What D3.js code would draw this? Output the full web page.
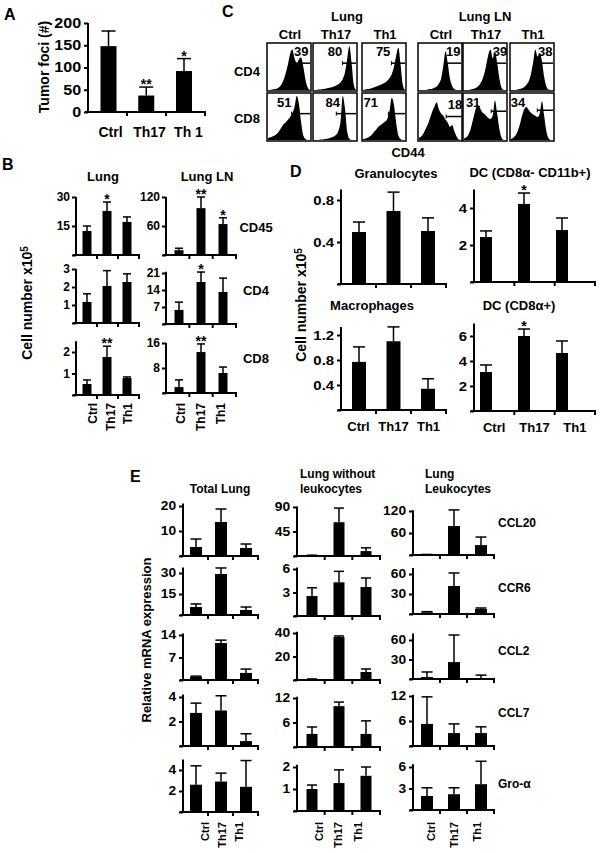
<!DOCTYPE html>
<html><head><meta charset="utf-8">
<script src="https://cdn.jsdelivr.net/npm/d3@7"></script>
<style>
body{margin:0;background:#fff}
svg{display:block}
text{font-family:"Liberation Sans",Arial,Helvetica,sans-serif;font-weight:bold;fill:#000}
</style>
</head><body>
<svg id="fig" width="601" height="853"></svg>
<script>
// ---------- DATA ----------
const cats = ["Ctrl", "Th17", "Th1"];

// Panel A: tumor foci
const tumorFoci = [148, 37, 92];
const tumorFociErr = [34, 19, 28];
const tumorFociStars = ["", "**", "*"];
const tumorFociTicks = [0, 50, 100, 150, 200];

// Panel B: cell number x10^5 (Lung / Lung LN) rows CD45, CD4, CD8
const bRowNames = ["CD45", "CD4", "CD8"];
const bLungCD45 = [12.4, 22.8, 17.1], bLungCD45Err = [2.6, 4.6, 2.6], bLungCD45Stars = ["", "*", ""];
const bLungCD4 = [1.17, 2.06, 2.28], bLungCD4Err = [0.45, 0.85, 0.45], bLungCD4Stars = ["", "", ""];
const bLungCD8 = [0.51, 1.77, 0.79], bLungCD8Err = [0.19, 0.5, 0.05], bLungCD8Stars = ["", "**", ""];
const bLnCD45 = [10, 97, 64], bLnCD45Err = [4, 23, 13], bLnCD45Stars = ["", "**", "*"];
const bLnCD4 = [5.8, 17.3, 13.2], bLnCD4Err = [3.2, 4.1, 5.7], bLnCD4Stars = ["", "*", ""];
const bLnCD8 = [1.9, 13.1, 6.4], bLnCD8Err = [2.3, 2.6, 1.9], bLnCD8Stars = ["", "**", ""];
const bLungTicks = [[0, 15, 30], [0, 1, 2, 3], [0, 1, 2]];
const bLnTicks = [[0, 60, 120], [0, 7, 14, 21], [0, 8, 16]];

// Panel C: flow histograms (CD44), percentages
const flowGroups = ["Lung", "Lung LN"];
const flowRows = ["CD4", "CD8"];
const flowPctCD4 = [39, 80, 75, 19, 39, 38];
const flowPctCD8 = [51, 84, 71, 18, 31, 34];
const histCD4 = [
  [0,0,1,2,3,6,12,22,38,58,82,92,72,60,70,74,52,22,5,0],
  [0,0,1,1,2,3,4,5,6,8,10,13,17,25,40,70,100,62,12,0],
  [0,1,2,3,4,6,8,10,12,14,17,21,27,36,52,78,96,58,12,0],
  [0,0,0,0,1,2,3,5,8,14,26,55,88,62,26,9,2,0,0,0],
  [0,0,0,1,2,4,7,12,20,34,55,80,92,72,88,62,26,5,0,0],
  [0,0,0,1,2,4,7,12,20,36,62,92,76,84,66,30,8,1,0,0]
];
const histCD8 = [
  [4,6,8,10,14,20,28,36,40,46,52,60,75,100,82,40,10,2,0,0],
  [0,0,0,1,1,2,3,4,6,8,12,20,42,100,72,20,3,0,0,0],
  [2,3,5,8,12,18,24,30,34,38,42,48,66,96,80,40,10,2,0,0],
  [5,8,15,25,36,50,65,76,86,70,60,55,46,40,30,34,20,8,1,0],
  [3,6,12,25,45,65,80,75,65,60,55,50,48,55,90,60,25,5,0,0],
  [2,5,10,20,35,55,70,75,68,62,58,55,52,60,88,55,20,4,0,0]
];

// Panel D: cell number x10^5
const dGran = [0.495, 0.695, 0.505], dGranErr = [0.095, 0.18, 0.125];
const dMac = [0.77, 1.1, 0.34], dMacErr = [0.24, 0.23, 0.16];
const dDC11b = [2.43, 4.22, 2.81], dDC11bErr = [0.33, 0.59, 0.65], dDC11bStars = ["", "*", ""];
const dDC8 = [3.12, 6.0, 4.64], dDC8Err = [0.56, 0.56, 0.96], dDC8Stars = ["", "*", ""];
const dTicksGran = [0, 0.4, 0.8], dTicksMac = [0, 0.4, 0.8, 1.2];
const dTicksDC11b = [0, 2, 4], dTicksDC8 = [0, 2, 4, 6];

// Panel E: relative mRNA expression
const eGenes = ["CCL20", "CCR6", "CCL2", "CCL7", "Gro-α"];
const eTotal = [[3.6, 13.6, 3.2], [5.7, 29.3, 3.6], [1.0, 11.5, 2.2], [2.7, 2.9, 0.4], [2.6, 2.9, 2.4]];
const eTotalErr = [[3.2, 5.2, 1.6], [2.2, 4.3, 2.1], [0.2, 0.9, 1.2], [0.8, 1.2, 0.6], [1.8, 0.8, 2.5]];
const eNoLeuk = [[1, 62, 9], [2.55, 4.3, 3.7], [0.6, 36.6, 6.8], [3.2, 10, 3.2], [1.0, 1.27, 1.6]];
const eNoLeukErr = [[0.5, 26, 6], [1.05, 1.4, 1.15], [0.3, 0.9, 2.6], [1.7, 1.0, 3.2], [0.18, 0.6, 0.4]];
const eLeuk = [[1, 79, 27], [2.5, 42, 7.5], [3, 26, 1.5], [5.3, 3.1, 3.1], [1.95, 2.2, 3.6]];
const eLeukErr = [[0.5, 44, 22], [1, 19.5, 1.5], [7.8, 41.7, 4.5], [6.5, 2.2, 1.5], [1.15, 0.9, 3.2]];
const eTicksTotal = [[0, 10, 20], [0, 15, 30], [0, 7, 14], [0, 2, 4], [0, 2, 4]];
const eTicksNoLeuk = [[0, 45, 90], [0, 3, 6], [0, 20, 40], [0, 6, 12], [0, 1, 2]];
const eTicksLeuk = [[0, 60, 120], [0, 30, 60], [0, 30, 60], [0, 6, 12], [0, 3, 6]];

// ---------- DRAWING ----------
const svg = d3.select("#fig");
const FONT = '"Liberation Sans",Arial,Helvetica,sans-serif';

function txt(x, y, s, o = {}) {
  const t = svg.append("text").attr("x", x).attr("y", y).text(s)
    .attr("font-size", o.fs || 13).attr("text-anchor", o.anchor || "middle");
  if (o.rot) t.attr("transform", `rotate(-90,${x},${y})`);
  return t;
}

function barPanel(cfg, vals, errs, stars) {
  const g = svg.append("g");
  const y = d3.scaleLinear().domain([0, cfg.refV]).range([cfg.y0, cfg.refY]);
  const xp = d3.scalePoint().domain(cats).range(cfg.bars);
  const xb = d3.scaleBand().domain(cats).range([cfg.ax, cfg.xEnd]);
  const data = cats.map((c, i) => ({ c, v: vals[i], e: errs[i], s: stars ? stars[i] : "" }));
  const cw = cfg.cw || cfg.bw * 0.8;
  g.selectAll(".eb").data(data).join("line").attr("class", "eb")
    .attr("x1", d => xp(d.c)).attr("x2", d => xp(d.c))
    .attr("y1", d => y(d.v)).attr("y2", d => y(d.v + d.e))
    .attr("stroke", "#000").attr("stroke-width", 1.5);
  g.selectAll(".cap").data(data).join("line").attr("class", "cap")
    .attr("x1", d => xp(d.c) - cw / 2).attr("x2", d => xp(d.c) + cw / 2)
    .attr("y1", d => y(d.v + d.e)).attr("y2", d => y(d.v + d.e))
    .attr("stroke", "#000").attr("stroke-width", 1.5);
  g.selectAll(".bar").data(data).join("rect").attr("class", "bar")
    .attr("x", d => xp(d.c) - cfg.bw / 2).attr("width", cfg.bw)
    .attr("y", d => y(d.v)).attr("height", d => cfg.y0 - y(d.v)).attr("fill", "#000");
  g.selectAll(".star").data(data.filter(d => d.s)).join("text").attr("class", "star")
    .attr("x", d => xp(d.c)).attr("y", d => y(d.v + d.e) + 2)
    .attr("text-anchor", "middle").attr("font-size", cfg.sfs || 14).text(d => d.s);
  // y axis
  const axis = d3.axisLeft(y).tickValues(cfg.ticks).tickSize(4).tickPadding(2)
    .tickFormat(d => (d === 0 && !cfg.zeroLabel) ? "" : String(d));
  const ga = g.append("g").attr("transform", `translate(${cfg.ax},0)`).call(axis);
  ga.attr("font-family", FONT).attr("font-weight", "bold").attr("font-size", cfg.tfs || 12);
  ga.select(".domain").remove();
  ga.selectAll(".tick line").attr("stroke-width", 2);
  if (cfg.tsx) ga.selectAll(".tick text").attr("transform", `scale(${cfg.tsx},1)`);
  ga.append("line").attr("x1", 0).attr("x2", 0).attr("y1", y(cfg.top)).attr("y2", cfg.y0 + 1)
    .attr("stroke", "#000").attr("stroke-width", 2);
  // x axis
  g.append("line").attr("x1", cfg.ax - 3).attr("x2", cfg.xEnd + 1).attr("y1", cfg.y0).attr("y2", cfg.y0)
    .attr("stroke", "#000").attr("stroke-width", 2);
  g.selectAll(".xt").data(cats).join("line").attr("class", "xt")
    .attr("x1", c => xb(c) + xb.bandwidth()).attr("x2", c => xb(c) + xb.bandwidth())
    .attr("y1", cfg.y0).attr("y2", cfg.y0 + 4).attr("stroke", "#000").attr("stroke-width", 2);
  if (cfg.hLabels) {
    g.selectAll(".xl").data(cats).join("text").attr("class", "xl")
      .attr("x", c => xb(c) + xb.bandwidth() / 2 + (cfg.lshift || 0)).attr("y", cfg.y0 + cfg.hLabels)
      .attr("text-anchor", "middle").attr("font-size", cfg.lfs || 13).text(c => c === "Th1" && cfg.th1 ? cfg.th1 : c);
  }
  if (cfg.rLabels) {
    const xl = d3.scalePoint().domain(cats).range(cfg.rLabels);
    g.selectAll(".rl").data(cats).join("text").attr("class", "rl")
      .attr("transform", c => `translate(${xl(c)},${cfg.y0 + cfg.rTop}) rotate(-90)`)
      .attr("dy", "0.36em").attr("text-anchor", "end").attr("font-size", cfg.lfs || 12).text(c => c);
  }
  return y;
}

// ---- Panel A ----
txt(4, 20, "A", { fs: 16, anchor: "start" });
barPanel({ ax: 88, xEnd: 205, bars: [108.5, 184], bw: 16, cw: 14, y0: 112, refV: 200, refY: 23, top: 200,
  ticks: tumorFociTicks, zeroLabel: true, tfs: 14, tsx: 1.15, hLabels: 25, lfs: 14, lshift: 3, th1: "Th 1" },
  tumorFoci, tumorFociErr, tumorFociStars);
txt(44, 67, "Tumor foci (#)", { fs: 14, rot: true }).attr("dy", "0.35em");

// ---- Panel B ----
txt(2, 170, "B", { fs: 16, anchor: "start" });
txt(103, 181, "Lung", { fs: 13 });
txt(207, 181, "Lung LN", { fs: 13 });
const bL = { ax: 76, xEnd: 139, bars: [87, 127], bw: 9, cw: 8, tfs: 12 };
const bN = { ax: 166, xEnd: 236, bars: [179, 223], bw: 9, cw: 8, tfs: 12 };
const bRowsL = [{ y0: 255, refV: 30, refY: 197, top: 30 }, { y0: 323, refV: 3, refY: 269, top: 3 }, { y0: 395, refV: 2, refY: 352, top: 2.5 }];
const bRowsN = [{ y0: 255, refV: 120, refY: 197, top: 120 }, { y0: 324, refV: 21, refY: 273, top: 21.5 }, { y0: 393, refV: 16, refY: 343, top: 16 }];
const bLungV = [[bLungCD45, bLungCD45Err, bLungCD45Stars], [bLungCD4, bLungCD4Err, bLungCD4Stars], [bLungCD8, bLungCD8Err, bLungCD8Stars]];
const bLnV = [[bLnCD45, bLnCD45Err, bLnCD45Stars], [bLnCD4, bLnCD4Err, bLnCD4Stars], [bLnCD8, bLnCD8Err, bLnCD8Stars]];
bRowsL.forEach((r, i) => {
  const last = i === 2;
  barPanel(Object.assign({}, bL, r, { ticks: bLungTicks[i], rLabels: last ? [93, 128] : null, rTop: 8 }), ...bLungV[i]);
  barPanel(Object.assign({}, bN, bRowsN[i], { ticks: bLnTicks[i], rLabels: last ? [181, 221] : null, rTop: 10 }), ...bLnV[i]);
});
[232, 295, 363].forEach((yy, i) => txt(256, yy, bRowNames[i], { fs: 13 }));
const bt = txt(27, 303, "Cell number x10", { fs: 14, rot: true }).attr("dy", "0.35em");
bt.append("tspan").attr("dy", "-0.4em").attr("font-size", 10).text("5");

// ---- Panel C ----
txt(222, 17, "C", { fs: 16, anchor: "start" });
const boxX = [267, 313, 362, 418, 463, 510], boxW = 44, rowY = [43, 93], boxH = 48;
txt(347, 21, flowGroups[0], { fs: 13 });
txt(485, 21, flowGroups[1], { fs: 13 });
boxX.forEach((bx, i) => txt(bx + boxW / 2 + 1, 39, cats[i % 3], { fs: 13 }));
txt(247, 76, flowRows[0], { fs: 13 });
txt(247, 123, flowRows[1], { fs: 13 });
txt(408, 157, "CD44", { fs: 13 });
const gateX = [[0.64, 0.67, 0.67, 0.61, 0.61, 0.6], [0.56, 0.53, 0.6, 0.64, 0.64, 0.62]];
const gateY = [[0.42, 0.42, 0.42, 0.42, 0.42, 0.42], [0.43, 0.43, 0.43, 0.49, 0.38, 0.36]];
const numX = [[0.78, 0.5, 0.48, 0.8, 0.84, 0.8], [0.39, 0.45, 0.2, 0.84, 0.23, 0.18]];
const numY = [[13, 13, 13, 13, 13, 13], [14, 14, 14, 16, 14, 14]];
[histCD4, histCD8].forEach((hs, r) => {
  const pcts = r === 0 ? flowPctCD4 : flowPctCD8;
  hs.forEach((h, i) => {
    const bx = boxX[i], by = rowY[r];
    const hx = d3.scaleLinear().domain([0, h.length - 1]).range([bx + 1, bx + boxW - 1]);
    const hy = d3.scaleLinear().domain([0, 100]).range([by + boxH - 1, by + 3]);
    const area = d3.area().x((d, k) => hx(k)).y0(by + boxH - 1).y1(d => hy(d)).curve(d3.curveMonotoneX);
    svg.append("path").datum(h).attr("d", area).attr("fill", "#000");
    svg.append("rect").attr("x", bx).attr("y", by).attr("width", boxW).attr("height", boxH)
      .attr("fill", "none").attr("stroke", "#000").attr("stroke-width", 1.5);
    const gy = by + boxH * gateY[r][i];
    svg.append("line").attr("x1", bx + boxW * gateX[r][i]).attr("x2", bx + boxW - 1)
      .attr("y1", gy).attr("y2", gy).attr("stroke", "#000").attr("stroke-width", 1.5);
    svg.append("line").attr("x1", bx + boxW * gateX[r][i]).attr("x2", bx + boxW * gateX[r][i])
      .attr("y1", gy - 2).attr("y2", gy + 2).attr("stroke", "#000").attr("stroke-width", 1);
    txt(bx + boxW * numX[r][i], by + numY[r][i], String(pcts[i]), { fs: 13 });
  });
});

// ---- Panel D ----
txt(290, 177, "D", { fs: 16, anchor: "start" });
txt(396, 178, "Granulocytes", { fs: 13 });
txt(372, 310, "Macrophages", { fs: 13 });
const dct = txt(530, 177, "DC (CD8", { fs: 13 });
dct.append("tspan").text("α- CD11b+)");
txt(519, 310, "DC (CD8α+)", { fs: 13 });
const dL = { ax: 341, xEnd: 446, bars: [359, 428], bw: 14, cw: 12, tfs: 13, tsx: 1.15, lfs: 13 };
const dR = { ax: 474, xEnd: 595, bars: [486, 562], bw: 12, cw: 12, tfs: 13, tsx: 1.15, lfs: 13 };
barPanel(Object.assign({}, dL, { y0: 284, refV: 0.8, refY: 200, top: 0.9, ticks: dTicksGran }), dGran, dGranErr, null);
barPanel(Object.assign({}, dL, { y0: 410, refV: 1.2, refY: 335, top: 1.33, ticks: dTicksMac, hLabels: 21 }), dMac, dMacErr, null);
barPanel(Object.assign({}, dR, { y0: 282, refV: 4, refY: 208, top: 5, ticks: dTicksDC11b }), dDC11b, dDC11bErr, dDC11bStars);
barPanel(Object.assign({}, dR, { y0: 411, refV: 6, refY: 336, top: 7, ticks: dTicksDC8, hLabels: 21 }), dDC8, dDC8Err, dDC8Stars);
const dt = txt(301, 305, "Cell number x10", { fs: 14, rot: true }).attr("dy", "0.35em");
dt.append("tspan").attr("dy", "-0.4em").attr("font-size", 10).text("5");

// ---- Panel E ----
txt(130, 482, "E", { fs: 16, anchor: "start" });
txt(220, 493, "Total Lung", { fs: 12 });
txt(300, 478, "Lung without", { fs: 12, anchor: "start" });
txt(300, 493, "leukocytes", { fs: 12, anchor: "start" });
txt(425, 478, "Lung", { fs: 12, anchor: "start" });
txt(425, 493, "Leukocytes", { fs: 12, anchor: "start" });
[527, 592, 655, 717, 788].forEach((yy, i) => txt(498, yy, eGenes[i], { fs: 12, anchor: "start" }));
txt(146, 640, "Relative mRNA expression", { fs: 13, rot: true }).attr("dy", "0.35em");
const eC1 = { ax: 183, xEnd: 258, bars: [196, 246], bw: 12, cw: 11, tfs: 12, tsx: 1.15, lfs: 11 };
const eC2 = { ax: 297, xEnd: 380, bars: [312, 366], bw: 11, cw: 10, tfs: 12, tsx: 1.15, lfs: 11 };
const eC3 = { ax: 413, xEnd: 494, bars: [427, 481], bw: 12, cw: 11, tfs: 12, tsx: 1.15, lfs: 11 };
const eRows1 = [{ y0: 556, refV: 20, refY: 506, top: 21 }, { y0: 615, refV: 30, refY: 573, top: 34 }, { y0: 680, refV: 14, refY: 635, top: 14.5 }, { y0: 746, refV: 4, refY: 697, top: 4.2 }, { y0: 812, refV: 4, refY: 770, top: 5 }];
const eRows2 = [{ y0: 556, refV: 90, refY: 507, top: 91 }, { y0: 616, refV: 6, refY: 569, top: 6.2 }, { y0: 680, refV: 40, refY: 633, top: 41 }, { y0: 747, refV: 12, refY: 698, top: 12.3 }, { y0: 811, refV: 2, refY: 767, top: 2.1 }];
const eRows3 = [{ y0: 555, refV: 120, refY: 511, top: 122 }, { y0: 614, refV: 60, refY: 574, top: 69 }, { y0: 679, refV: 60, refY: 640, top: 70 }, { y0: 746, refV: 12, refY: 696, top: 12.3 }, { y0: 810, refV: 6, refY: 767, top: 6.4 }];
for (let i = 0; i < 5; i++) {
  const last = i === 4;
  barPanel(Object.assign({}, eC1, eRows1[i], { ticks: eTicksTotal[i], rLabels: last ? [205, 239] : null, rTop: 10 }), eTotal[i], eTotalErr[i], null);
  barPanel(Object.assign({}, eC2, eRows2[i], { ticks: eTicksNoLeuk[i], rLabels: last ? [319, 358] : null, rTop: 11 }), eNoLeuk[i], eNoLeukErr[i], null);
  barPanel(Object.assign({}, eC3, eRows3[i], { ticks: eTicksLeuk[i], rLabels: last ? [431, 477] : null, rTop: 12 }), eLeuk[i], eLeukErr[i], null);
}
</script>
</body></html>
